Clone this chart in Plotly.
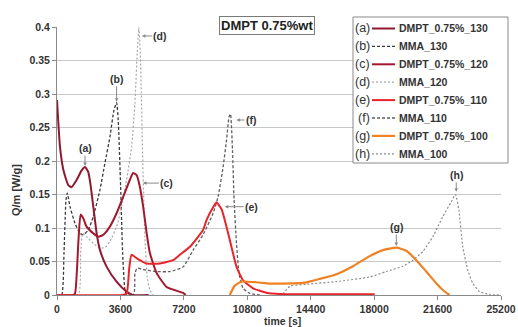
import plotly.graph_objects as go

# ---------------- data ----------------
t_a = [0, 170, 360, 640, 830, 1120, 1400, 1590, 1780, 1900, 2060, 2250, 2440, 2820, 3380, 3950, 4300, 5200]
q_a = [0.291, 0.221, 0.187, 0.164, 0.161, 0.172, 0.186, 0.191, 0.183, 0.165, 0.132, 0.092, 0.067, 0.042, 0.020, 0.005, 0.0, 0.0]

t_b = [0, 266, 397, 510, 584, 737, 1020, 1304, 1491, 1774, 2058, 2438, 2721, 3005, 3231, 3384, 3475, 3611, 3725, 3855, 3951, 4300]
q_b = [0, 0, 0.063, 0.142, 0.152, 0.132, 0.107, 0.092, 0.090, 0.097, 0.117, 0.157, 0.197, 0.236, 0.276, 0.287, 0.261, 0.162, 0.062, 0.0075, 0.0, 0.0]

t_c = [0, 900, 1020, 1210, 1340, 1500, 1680, 2060, 2340, 2630, 3000, 3380, 3760, 4140, 4320, 4520, 4700, 4890, 5090, 5270, 5650, 6220, 7160, 7300]
q_c = [0, 0, 0.002, 0.078, 0.120, 0.114, 0.102, 0.092, 0.087, 0.090, 0.102, 0.122, 0.147, 0.172, 0.182, 0.179, 0.162, 0.132, 0.092, 0.063, 0.033, 0.012, 0.003, 0.0]

t_d = [0, 1207, 1343, 1457, 1684, 2058, 2438, 2721, 3005, 3384, 3668, 3951, 4234, 4422, 4552, 4649, 4745, 4858, 4989, 5119, 5272, 5459]
q_d = [0, 0, 0.062, 0.092, 0.087, 0.077, 0.070, 0.071, 0.080, 0.102, 0.132, 0.172, 0.221, 0.286, 0.361, 0.399, 0.346, 0.211, 0.087, 0.027, 0.0075, 0.0]

t_e = [0, 3700, 3950, 4100, 4230, 4520, 5090, 5840, 6590, 6970, 7540, 8290, 8490, 8860, 9050, 9340, 9620, 9900, 10190, 10560, 11130, 11890, 12640, 15000, 18030]
q_e = [0, 0, 0.002, 0.040, 0.060, 0.055, 0.047, 0.047, 0.052, 0.060, 0.072, 0.097, 0.112, 0.131, 0.138, 0.128, 0.102, 0.072, 0.042, 0.022, 0.010, 0.0035, 0.0015, 0.001, 0.001]

t_f = [0, 4325, 4422, 4552, 4892, 5652, 6406, 7160, 7727, 8294, 8861, 9144, 9427, 9620, 9767, 9847, 9960, 10051, 10187, 10334, 10561, 10941, 11508]
q_f = [0, 0, 0.032, 0.040, 0.038, 0.035, 0.035, 0.042, 0.067, 0.090, 0.122, 0.147, 0.191, 0.231, 0.266, 0.270, 0.216, 0.142, 0.077, 0.032, 0.010, 0.0025, 0.0]

t_g = [9808, 10091, 10470, 11320, 12076, 12642, 13962, 14910, 15855, 16795, 17745, 18499, 19258, 19825, 20391, 20958, 21524, 21898, 22277]
q_g = [0.0, 0.014, 0.020, 0.019, 0.017, 0.017, 0.018, 0.024, 0.031, 0.043, 0.058, 0.067, 0.0706, 0.066, 0.052, 0.035, 0.0175, 0.0075, 0.0]

t_h = [12600, 12830, 13210, 14155, 15855, 17745, 18691, 19632, 20198, 20765, 21332, 21898, 22374, 22618, 22806, 23032, 23316, 23599, 23979, 24545, 25112]
q_h = [0.0, 0.002, 0.013, 0.016, 0.020, 0.027, 0.035, 0.043, 0.052, 0.065, 0.087, 0.117, 0.139, 0.150, 0.127, 0.072, 0.037, 0.0175, 0.005, 0.001, 0.0]

letters = ["(a)", "(b)", "(c)", "(d)", "(e)", "(f)", "(g)", "(h)"]
names = ["DMPT_0.75%_130", "MMA_130", "DMPT_0.75%_120", "MMA_120",
         "DMPT_0.75%_110", "MMA_110", "DMPT_0.75%_100", "MMA_100"]
xs = [t_a, t_b, t_c, t_d, t_e, t_f, t_g, t_h]
ys = [q_a, q_b, q_c, q_d, q_e, q_f, q_g, q_h]

x_ticks = [0, 3600, 7200, 10800, 14400, 18000, 21600, 25200]
y_ticks = [0, 0.05, 0.1, 0.15, 0.2, 0.25, 0.3, 0.35, 0.4]
y_tick_text = ["0", "0.05", "0.1", "0.15", "0.2", "0.25", "0.3", "0.35", "0.4"]

# peak labels: (letter, t, q, text offset px)
peak_labels = [
    ("(a)", 1590, 0.1925, 0, -18),
    ("(b)", 3384, 0.2885, 0, -23),
    ("(c)", 4876, 0.167, 24, 0),
    ("(d)", 4819, 0.3866, 18, 0),
    ("(e)", 9524, 0.1318, 27, 0),
    ("(f)", 10187, 0.2612, 15, 0),
    ("(g)", 19260, 0.0731, 0, -19),
    ("(h)", 22660, 0.154, 0, -17),
]

# ---------------- styles ----------------
colors = ["#8e1a30", "#3a3a3a", "#a3182c", "#a8a8a8", "#e8242b", "#5e5e5e", "#f08122", "#8c8c8c"]
widths = [2.0, 1.3, 2.0, 1.2, 2.0, 1.3, 2.2, 1.2]
dashes = ["solid", "3px,2px", "solid", "2px,2px", "solid", "3px,2px", "solid", "2px,2px"]

W, H = 518, 327
ML, MR, MT, MB = 57, 17, 27, 32
PW, PH = W - ML - MR, H - MT - MB


def px2paper_x(px):
    return (px - ML) / PW


def px2paper_y(py):
    return (H - MB - py) / PH


fig = go.Figure()
order = [1, 3, 5, 7, 0, 2, 4, 6]
for i in order:
    fig.add_trace(go.Scatter(
        x=xs[i], y=ys[i], mode="lines", name=names[i],
        line=dict(color=colors[i], width=widths[i], dash=dashes[i],
                  shape="spline", smoothing=0.5),
        showlegend=False, hoverinfo="skip"))

FONT = "Liberation Sans, Arial, sans-serif"
annotations = []
for lab, tx, ty, ax, ay in peak_labels:
    annotations.append(dict(
        x=tx, y=ty, xref="x", yref="y", text="<b>%s</b>" % lab,
        showarrow=True, ax=ax, ay=ay, arrowhead=2, arrowsize=0.7,
        arrowwidth=1, arrowcolor="#8a8a8a", standoff=0,
        font=dict(family=FONT, size=10.5, color="#333333")))

# title box
annotations.append(dict(
    x=px2paper_x(267), y=px2paper_y(25), xref="paper", yref="paper",
    text="<b>DMPT 0.75%wt</b>", showarrow=False, xanchor="center", yanchor="middle",
    font=dict(family=FONT, size=13, color="#222222"),
    bgcolor="white", bordercolor="#7a7a7a", borderwidth=1, borderpad=1))

# axis titles
annotations.append(dict(
    x=px2paper_x(16), y=px2paper_y(190), xref="paper", yref="paper",
    text="<b>Q/m [W/g]</b>", textangle=-90, showarrow=False,
    xanchor="center", yanchor="middle",
    font=dict(family=FONT, size=11, color="#333333")))
annotations.append(dict(
    x=px2paper_x(282), y=px2paper_y(321), xref="paper", yref="paper",
    text="<b>time [s]</b>", showarrow=False, xanchor="center", yanchor="middle",
    font=dict(family=FONT, size=10.5, color="#333333")))

# custom legend
shapes = [dict(type="rect", xref="paper", yref="paper",
               x0=px2paper_x(353), x1=px2paper_x(508),
               y0=px2paper_y(163), y1=px2paper_y(17),
               line=dict(color="#8a8a8a", width=1), fillcolor="white", layer="above")]
row0, drow = 28.5, 17.9
for i in range(8):
    yy = px2paper_y(row0 + i * drow)
    shapes.append(dict(type="line", xref="paper", yref="paper",
                       x0=px2paper_x(372), x1=px2paper_x(395), y0=yy, y1=yy,
                       line=dict(color=colors[i], width=widths[i], dash=dashes[i]),
                       layer="above"))
    annotations.append(dict(x=px2paper_x(372), y=yy, xref="paper", yref="paper",
                            text=letters[i], showarrow=False, xanchor="right", yanchor="middle",
                            font=dict(family=FONT, size=12.5, color="#333333")))
    annotations.append(dict(x=px2paper_x(397), y=yy, xref="paper", yref="paper",
                            text="<b>%s</b>" % names[i], showarrow=False,
                            xanchor="left", yanchor="middle",
                            font=dict(family=FONT, size=10.5, color="#333333")))

fig.update_layout(
    width=W, height=H,
    margin=dict(l=ML, r=MR, t=MT, b=MB, autoexpand=False),
    paper_bgcolor="white", plot_bgcolor="white",
    showlegend=False,
    font=dict(family=FONT, color="#333333"),
    annotations=annotations, shapes=shapes,
    xaxis=dict(range=[0, 25200], tickvals=x_ticks,
               ticktext=["<b>%s</b>" % v for v in x_ticks],
               showgrid=False, zeroline=False, showline=True, linecolor="#8a8a8a",
               ticks="outside", ticklen=4, tickcolor="#8a8a8a",
               tickfont=dict(family=FONT, size=10.5, color="#333333"),
               automargin=False, fixedrange=True),
    yaxis=dict(range=[0, 0.4], tickvals=y_ticks,
               ticktext=["<b>%s</b>" % v for v in y_tick_text],
               showgrid=True, gridcolor="#c8c8c8", gridwidth=1, zeroline=False,
               showline=True, linecolor="#8a8a8a",
               ticks="outside", ticklen=4, tickcolor="#8a8a8a",
               tickfont=dict(family=FONT, size=10.5, color="#333333"),
               automargin=False, fixedrange=True),
)

fig.write_html("out.html", config={"displayModeBar": False},
               post_script="document.body.style.margin='0';document.body.style.overflow='hidden';")
